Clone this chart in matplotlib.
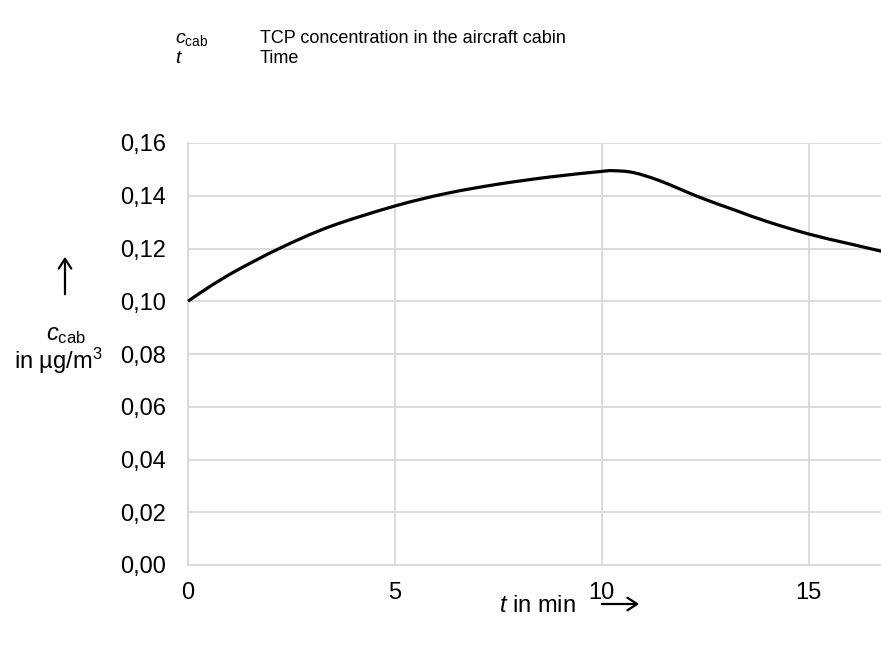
"""
Recreate the TCP cabin concentration chart (c_cab over time).
"""

import matplotlib
matplotlib.use("Agg")
import matplotlib.pyplot as plt
from matplotlib.path import Path
from matplotlib.patches import PathPatch, FancyArrowPatch

plt.rcParams["font.family"] = ["Liberation Sans", "DejaVu Sans"]
plt.rcParams["mathtext.fontset"] = "custom"
plt.rcParams["mathtext.rm"] = "Liberation Sans"
plt.rcParams["mathtext.it"] = "Liberation Sans:italic"

# values
time_min = [0, 0.53, 1.18, 2.22, 3.43, 5.0, 6.25, 7.46, 8.74, 9.98, 10.27,
            10.76, 11.4, 12.37, 13.21, 14.0, 15.0, 15.93, 16.81]
c_cab = [0.100, 0.1056, 0.1117, 0.1201, 0.1283, 0.1361, 0.1409, 0.1443, 0.1471,
         0.1492, 0.1495, 0.1488, 0.1457, 0.1394, 0.1346, 0.1302, 0.1255, 0.1220, 0.1188]

x_ticks = [0, 5, 10, 15]
y_ticks = [0.00, 0.02, 0.04, 0.06, 0.08, 0.10, 0.12, 0.14, 0.16]
y_ticklabels = [f"{v:.2f}".replace(".", ",") for v in y_ticks]

FS = 17       # ticks and axis titles
FS_LEG = 13   # symbol list at the top
GRID = "#d9d9d9"


def smooth_path(xs, ys):
    """Bezier path through the points (like Excel's smoothed line)."""
    verts = [(xs[0], ys[0])]
    codes = [Path.MOVETO]
    n = len(xs)
    for i in range(n - 1):
        x0, y0 = (xs[i - 1], ys[i - 1]) if i > 0 else (xs[i], ys[i])
        x1, y1 = xs[i], ys[i]
        x2, y2 = xs[i + 1], ys[i + 1]
        x3, y3 = (xs[i + 2], ys[i + 2]) if i + 2 < n else (x2, y2)
        c1 = (x1 + (x2 - x0) / 6, y1 + (y2 - y0) / 6)
        c2 = (x2 - (x3 - x1) / 6, y2 - (y3 - y1) / 6)
        verts += [c1, c2, (x2, y2)]
        codes += [Path.CURVE4] * 3
    return Path(verts, codes)


fig = plt.figure(figsize=(8.81, 6.47), dpi=100)
ax = fig.add_axes([188 / 881, 1 - 565 / 647, 1 - 188 / 881, (565 - 143) / 647])

ax.add_patch(PathPatch(smooth_path(time_min, c_cab), facecolor="none",
                       edgecolor="black", lw=2.3, joinstyle="round",
                       zorder=3, clip_on=False))

ax.set_xlim(0, 16.75)
ax.set_ylim(0, 0.16)
ax.set_xticks(x_ticks)
ax.set_yticks(y_ticks)
ax.set_yticklabels(y_ticklabels)
ax.tick_params(length=0, labelsize=FS, colors="black")
ax.tick_params(axis="y", pad=16)
ax.tick_params(axis="x", pad=12)
ax.grid(True, color=GRID, lw=1.3)
ax.set_axisbelow(True)
for side in ["top", "right"]:
    ax.spines[side].set_visible(False)
for side in ["left", "bottom"]:
    ax.spines[side].set_color(GRID)
    ax.spines[side].set_linewidth(1.3)

# symbol list at the top
fig.text(175 / 881, 1 - 43 / 647, r"$c_{\mathrm{cab}}$", fontsize=FS_LEG + 1, va="baseline")
fig.text(175 / 881, 1 - 63 / 647, r"$t$", fontsize=FS_LEG + 1, va="baseline")
fig.text(260 / 881, 1 - 43 / 647, "TCP concentration in the aircraft cabin",
         fontsize=FS_LEG, va="baseline")
fig.text(260 / 881, 1 - 63 / 647, "Time", fontsize=FS_LEG, va="baseline")

# y axis title with arrow
fig.text(66 / 881, 1 - 340 / 647, r"$c_{\mathrm{cab}}$", fontsize=FS,
         ha="center", va="baseline")
fig.text(58 / 881, 1 - 369 / 647, r"in µg/m$^{\mathregular{3}}$", fontsize=FS,
         ha="center", va="baseline")
fig.add_artist(FancyArrowPatch(
    (65 / 881, 1 - 297 / 647), (65 / 881, 1 - 254 / 647),
    transform=fig.transFigure, arrowstyle="->,head_length=7,head_width=4.5",
    lw=1.6, color="black", mutation_scale=1))

# x axis title with arrow
fig.text(537 / 881, 1 - 612 / 647, r"$t$ in min", fontsize=FS,
         ha="center", va="baseline")
fig.add_artist(FancyArrowPatch(
    (599 / 881, 1 - 604 / 647), (642 / 881, 1 - 604 / 647),
    transform=fig.transFigure, arrowstyle="->,head_length=7,head_width=4.5",
    lw=1.6, color="black", mutation_scale=1))

fig.savefig("out.png", dpi=100)
